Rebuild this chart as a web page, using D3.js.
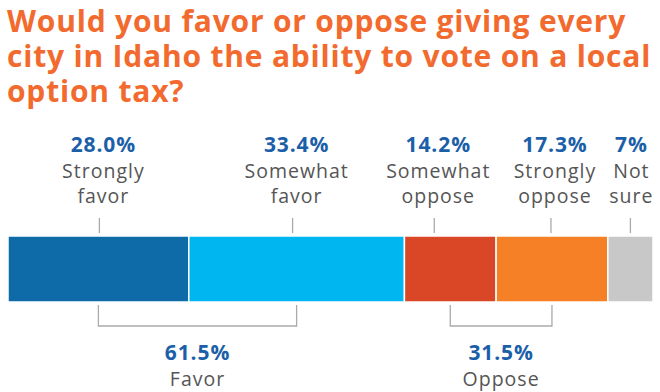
<!DOCTYPE html>
<html>
<head>
<meta charset="utf-8">
<script src="https://cdn.jsdelivr.net/npm/d3@7"></script>
<style>
  body { margin: 0; background: #fff; }
  .title { font-family: 'Open Sans', sans-serif; font-weight: 700; fill: #f26a2e; letter-spacing: 0.8px; }
  .pct { font-family: 'Open Sans', sans-serif; font-weight: 700; fill: #1c5fa9; letter-spacing: 0.9px; }
  .cat { font-family: 'Open Sans', sans-serif; font-weight: 400; fill: #555; letter-spacing: 1px; }
</style>
</head>
<body>
<main></main>
<script>
const titleLines = ['Would you favor or oppose giving every', 'city in Idaho the ability to vote on a local', 'option tax?'];

const categories = ['Strongly favor', 'Somewhat favor', 'Somewhat oppose', 'Strongly oppose', 'Not sure'];
const values = [28.0, 33.4, 14.2, 17.3, 7];
const valueLabels = ['28.0%', '33.4%', '14.2%', '17.3%', '7%'];
const colors = ['#0e6ba8', '#00b6f0', '#d94727', '#f58025', '#c8c8c8'];

const groups = ['Favor', 'Oppose'];
const groupValues = [61.5, 31.5];
const groupMembers = [[0, 1], [2, 3]];

const width = 660;
const height = 392;

const svg = d3
  .select('main')
  .append('svg')
  .attr('width', width)
  .attr('height', height);

// title
svg.append('text')
  .attr('class', 'title')
  .attr('font-size', 30)
  .selectAll('tspan')
  .data(titleLines)
  .enter()
  .append('tspan')
  .attr('x', 7)
  .attr('y', (d, i) => 32 + i * 35)
  .text(d => d);

// stacked bar
let acc = 0;
const stack = values.map((v, i) => {
  const s = { i: i, start: acc, end: acc + v, value: v };
  acc += v;
  return s;
});

const x = d3.scaleLinear()
  .domain([0, d3.sum(values)])
  .range([8, 653]);

const barTop = 236;
const barH = 66;
const mid = d => x((d.start + d.end) / 2);

svg.append('g')
  .selectAll('rect')
  .data(stack)
  .enter()
  .append('rect')
  .attr('x', d => x(d.start))
  .attr('y', barTop)
  .attr('width', d => x(d.end) - x(d.start))
  .attr('height', barH)
  .attr('fill', (d, i) => colors[i])
  .attr('stroke', '#fff')
  .attr('stroke-width', 1.5);

// some labels are nudged sideways to keep them apart
const nudge = [1, -4, -16, -1, 0];
const labelX = d => mid(d) + nudge[d.i];
const textShift = [4, 4, 4, 4, 1];

const upper = svg.append('g');

upper.selectAll('line')
  .data(stack)
  .enter()
  .append('line')
  .attr('x1', labelX)
  .attr('x2', labelX)
  .attr('y1', 218)
  .attr('y2', 233)
  .attr('stroke', '#aaa')
  .attr('stroke-width', 1.3);

upper.selectAll('.pct')
  .data(stack)
  .enter()
  .append('text')
  .attr('class', 'pct')
  .attr('x', d => labelX(d) + textShift[d.i])
  .attr('y', 152)
  .attr('font-size', 21)
  .attr('text-anchor', 'middle')
  .text(d => valueLabels[d.i]);

const cats = upper.selectAll('.cat')
  .data(stack)
  .enter()
  .append('text')
  .attr('class', 'cat')
  .attr('font-size', 19.5)
  .attr('text-anchor', 'middle');

cats.selectAll('tspan')
  .data(d => categories[d.i].split(' ').map(w => ({ w: w, d: d })))
  .enter()
  .append('tspan')
  .attr('x', t => labelX(t.d) + textShift[t.d.i])
  .attr('y', (t, j) => 178 + j * 25)
  .text(t => t.w);

// group brackets below the bar
const lower = svg.append('g');

groups.forEach((g, gi) => {
  const a = mid(stack[groupMembers[gi][0]]);
  const b = mid(stack[groupMembers[gi][1]]);
  const path = d3.path();
  path.moveTo(a, 305);
  path.lineTo(a, 326);
  path.lineTo(b, 326);
  path.lineTo(b, 305);

  lower.append('path')
    .attr('d', path.toString())
    .attr('fill', 'none')
    .attr('stroke', '#aaa')
    .attr('stroke-width', 1.3);

  lower.append('text')
    .attr('class', 'pct')
    .attr('x', (a + b) / 2)
    .attr('y', 360)
    .attr('font-size', 21)
    .attr('text-anchor', 'middle')
    .text(groupValues[gi].toFixed(1) + '%');

  lower.append('text')
    .attr('class', 'cat')
    .attr('x', (a + b) / 2)
    .attr('y', 386)
    .attr('font-size', 19.5)
    .attr('text-anchor', 'middle')
    .text(g);
});
</script>
</body>
</html>
